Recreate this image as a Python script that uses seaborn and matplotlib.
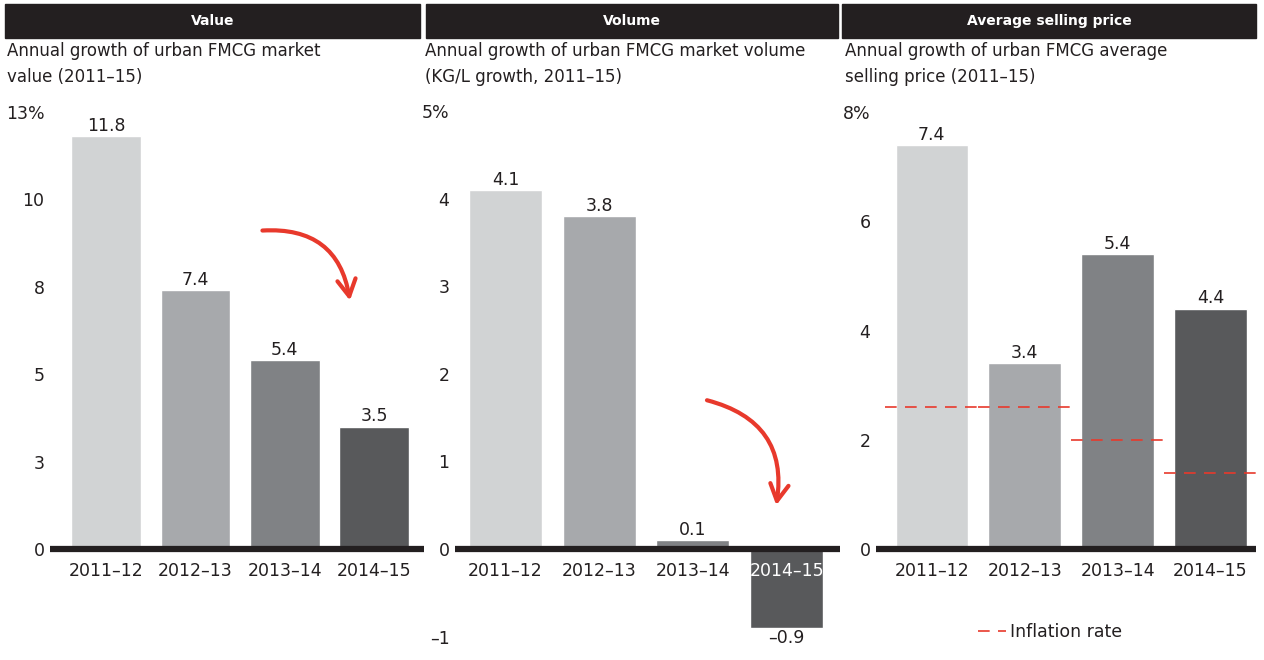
import matplotlib
matplotlib.use("Agg")
import matplotlib.pyplot as plt
import seaborn as sns
import pandas as pd
from matplotlib.patches import Rectangle

# data
years = ["2011–12", "2012–13", "2013–14", "2014–15"]
value_growth = [11.8, 7.4, 5.4, 3.5]
volume_growth = [4.1, 3.8, 0.1, -0.9]
price_growth = [7.4, 3.4, 5.4, 4.4]
inflation = [2.6, 2.6, 2.0, 1.4]

value_labels = ["11.8", "7.4", "5.4", "3.5"]
volume_labels = ["4.1", "3.8", "0.1", "–0.9"]
price_labels = ["7.4", "3.4", "5.4", "4.4"]

value_ticks = [0, 2.5, 5, 7.5, 10, 12.5]
value_ticklabels = ["0", "3", "5", "8", "10", "13%"]
volume_ticks = [-1, 0, 1, 2, 3, 4, 5]
volume_ticklabels = ["–1", "0", "1", "2", "3", "4", "5%"]
price_ticks = [0, 2, 4, 6, 8]
price_ticklabels = ["0", "2", "4", "6", "8%"]

headers = ["Value", "Volume", "Average selling price"]
subtitles = ["Annual growth of urban FMCG market\nvalue (2011–15)",
             "Annual growth of urban FMCG market volume\n(KG/L growth, 2011–15)",
             "Annual growth of urban FMCG average\nselling price (2011–15)"]

bar_colors = ["#d1d3d4", "#a7a9ac", "#808285", "#58595b"]
text_color = "#231f20"
red = "#e8392c"

sns.set_theme(style="white")
plt.rcParams['font.family'] = ['DejaVu Sans']

W, H = 1264, 660
fig = plt.figure(figsize=(W / 100, H / 100), dpi=100)

# axes boxes in pixels: left, right, plus xlim / ylim
top_px, bot_px = 100, 645
panels = [
    dict(left=50, right=424, xlim=(-0.63, 3.56), ylim=(-2.743, 12.83),
         vals=value_growth, labels=value_labels, ticks=value_ticks, tl=value_ticklabels),
    dict(left=455, right=840, xlim=(-0.54, 3.57), ylim=(-1.097, 5.131),
         vals=volume_growth, labels=volume_labels, ticks=volume_ticks, tl=volume_ticklabels),
    dict(left=876, right=1256, xlim=(-0.60, 3.49), ylim=(-1.758, 8.223),
         vals=price_growth, labels=price_labels, ticks=price_ticks, tl=price_ticklabels),
]
header_px = [(5, 420), (426, 838), (842, 1256)]
subtitle_x = [7, 425, 845]

fs = 12.5
axes = []
for i, p in enumerate(panels):
    ax = fig.add_axes([p['left'] / W, 1 - bot_px / H, (p['right'] - p['left']) / W, (bot_px - top_px) / H])
    df = pd.DataFrame({'year': years, 'growth': p['vals']})
    sns.barplot(data=df, x='year', y='growth', hue='year', palette=bar_colors,
                legend=False, width=0.78, ax=ax, saturation=1)
    ax.set_xlim(*p['xlim'])
    ax.set_ylim(*p['ylim'])
    ax.axhline(0, color=text_color, lw=4.5, zorder=5)
    for sp in ax.spines.values():
        sp.set_visible(False)
    ax.set_xlabel('')
    ax.set_ylabel('')
    ax.set_xticks([])
    ax.set_yticks(p['ticks'])
    ax.set_yticklabels(p['tl'], fontsize=fs, color=text_color)
    ax.tick_params(axis='y', length=0, pad=4)
    ax.grid(False)

    # value labels
    for cont, lab in zip(ax.containers, p['labels']):
        ax.bar_label(cont, labels=[lab], padding=1, fontsize=fs, color=text_color)

    # category labels under the zero line
    for j, yr in enumerate(years):
        c = text_color
        if p['vals'][j] < 0:
            c = 'white'
        ax.annotate(yr, (j, 0), xytext=(0, -9), textcoords='offset points',
                    ha='center', va='top', fontsize=fs, color=c, zorder=6)

    # header bar
    x0, x1 = header_px[i]
    fig.patches.append(Rectangle((x0 / W, 1 - 38 / H), (x1 - x0) / W, 34 / H,
                                 transform=fig.transFigure, color=text_color, zorder=0))
    fig.text((x0 + x1) / 2 / W, 1 - 21 / H, headers[i], ha='center', va='center',
             color='white', fontsize=10, fontweight='bold')
    fig.text(subtitle_x[i] / W, 1 - 42 / H, subtitles[i], ha='left', va='top',
             fontsize=12, color=text_color, linespacing=1.6)
    axes.append(ax)

ax1, ax2, ax3 = axes

# inflation rate dashes, one per year
for j, v in enumerate(inflation):
    ax3.hlines(v, j - 0.5, j + 0.5, color=red, lw=1.2, linestyles=(0, (7, 5)), zorder=4)
ax3.plot([], [], color=red, lw=1.2, linestyle=(0, (7, 5)), label='Inflation rate')
ax3.legend(loc='center', bbox_to_anchor=(1050 / W, 1 - 632 / H), bbox_transform=fig.transFigure,
           frameon=False, fontsize=fs, handlelength=1.6, handletextpad=0.2,
           labelcolor=text_color)

# red hand-drawn style arrows
arrow = dict(arrowstyle='->,head_length=1.0,head_width=0.55', color=red, lw=3,
             connectionstyle='arc3,rad=-0.45', shrinkA=0, shrinkB=0)
ax1.annotate('', xy=(2.73, 7.1), xytext=(1.75, 9.1), arrowprops=arrow)
ax2.annotate('', xy=(2.89, 0.5), xytext=(2.15, 1.7), arrowprops=arrow)

fig.savefig('out.png', dpi=100)
